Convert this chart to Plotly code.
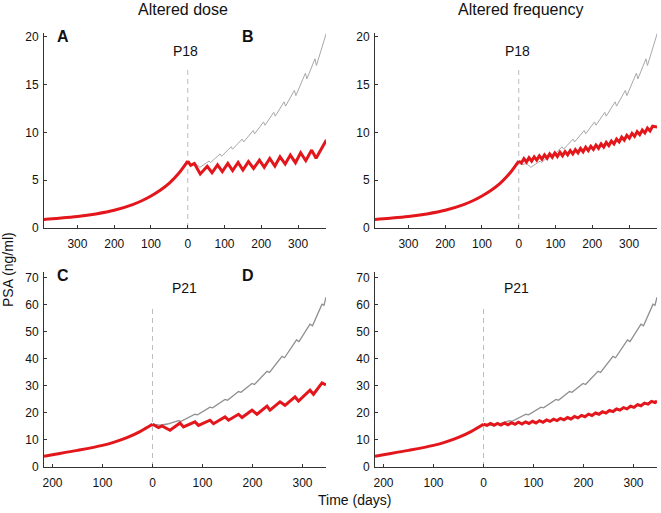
import plotly.graph_objects as go

# ---------------- data ----------------
# P18 (top row)
pre_top_days = [-391, -350, -300, -250, -200, -150, -125, -100, -75, -50, -25, 0]
pre_top_psa = [0.9, 1.02, 1.2, 1.47, 1.85, 2.45, 2.85, 3.35, 3.95, 4.7, 5.7, 7.0]

gray_top_days = [0, 10, 20, 33, 58, 62, 88, 92, 118, 122, 148, 152, 178, 182, 206, 210,
                 234, 238, 262, 266, 290, 294, 320, 324, 346, 350, 377]
gray_top_psa = [7.0, 6.6, 6.75, 6.35, 7.0, 6.85, 7.75, 7.5, 8.5, 8.25, 9.3, 9.0, 10.2, 9.85,
                11.1, 10.75, 12.1, 11.7, 13.2, 12.75, 14.4, 13.85, 16.2, 15.6, 17.7, 17.0, 20.4]

dose_top_days = [0, 8, 18, 34, 53, 66, 81, 94, 109, 122, 137, 150, 165, 179, 195, 208,
                 223, 237, 251, 265, 279, 293, 307, 321, 337, 349, 377]
dose_top_psa = [7.0, 6.55, 6.75, 5.65, 6.45, 5.78, 6.6, 5.9, 6.75, 6.0, 6.85, 6.07, 6.95, 6.23,
                7.1, 6.35, 7.28, 6.48, 7.45, 6.69, 7.63, 6.83, 7.87, 7.04, 8.15, 7.3, 9.2]

freq_top_peak_days = [0, 14, 28, 42, 56, 70, 84, 98, 112, 126, 140, 154, 168, 182, 196, 210,
                      224, 238, 252, 266, 280, 294, 308, 322, 336, 350, 364]
freq_top_peak_psa = [7.0, 7.25, 7.35, 7.45, 7.55, 7.65, 7.75, 7.85, 7.92, 8.0, 8.1, 8.2, 8.32,
                     8.45, 8.55, 8.68, 8.8, 8.95, 9.1, 9.3, 9.5, 9.7, 9.9, 10.08, 10.25, 10.45, 10.65]
freq_top_trough_days = [7, 21, 35, 49, 63, 77, 91, 105, 119, 133, 147, 161, 175, 189, 203,
                        217, 231, 245, 259, 273, 287, 301, 315, 329, 343, 357]
freq_top_trough_psa = [6.8, 6.9, 7.0, 7.1, 7.2, 7.3, 7.4, 7.48, 7.56, 7.65, 7.75, 7.86, 7.98,
                       8.1, 8.22, 8.34, 8.47, 8.62, 8.8, 9.0, 9.2, 9.4, 9.58, 9.76, 9.95, 10.15]
freq_top_end = [377, 10.55]

# P21 (bottom row)
pre_bot_days = [-217, -200, -150, -100, -75, -50, -25, 0]
pre_bot_psa = [4.0, 4.55, 6.15, 8.0, 9.3, 10.95, 13.1, 15.8]

gray_bot_days = [0, 15, 30, 52, 57, 85, 90, 115, 120, 145, 150, 172, 177, 199, 204,
                 229, 234, 259, 264, 288, 293, 315, 320, 339, 343, 347]
gray_bot_psa = [15.8, 15.5, 15.9, 17.1, 16.9, 19.5, 19.3, 22.1, 21.9, 25.0, 24.7, 27.9, 27.6,
                30.9, 30.5, 35.4, 35.0, 40.9, 40.4, 47.0, 46.4, 52.8, 52.2, 60.2, 59.8, 62.8]

dose_bot_days = [0, 12, 19, 35, 55, 62, 85, 92, 115, 122, 145, 152, 172, 179, 199, 209,
                 229, 235, 255, 265, 285, 292, 315, 322, 339, 347]
dose_bot_psa = [15.8, 14.6, 15.2, 13.6, 16.3, 14.8, 16.7, 15.4, 17.3, 16.0, 18.5, 17.3, 19.5,
                18.3, 21.0, 19.5, 22.5, 21.0, 24.1, 22.8, 25.9, 24.4, 28.4, 26.9, 31.1, 30.3]

freq_bot_peak_days = [0, 14, 28, 42, 56, 70, 84, 98, 112, 126, 140, 154, 168, 182, 196, 210,
                      224, 238, 252, 266, 280, 294, 308, 322, 336]
freq_bot_peak_psa = [15.8, 16.1, 16.15, 16.25, 16.4, 16.55, 16.7, 16.9, 17.15, 17.4, 17.7, 18.0,
                     18.3, 18.65, 19.1, 19.55, 19.95, 20.45, 20.95, 21.45, 21.95, 22.45, 23.05,
                     23.65, 24.25]
freq_bot_trough_days = [7, 21, 35, 49, 63, 77, 91, 105, 119, 133, 147, 161, 175, 189, 203,
                        217, 231, 245, 259, 273, 287, 301, 315, 329, 343]
freq_bot_trough_psa = [15.4, 15.45, 15.5, 15.6, 15.75, 15.9, 16.1, 16.3, 16.55, 16.85, 17.15,
                       17.45, 17.75, 18.15, 18.6, 19.05, 19.5, 19.95, 20.5, 21.0, 21.5, 22.05,
                       22.65, 23.25, 23.85]
freq_bot_end = [347, 24.4]

dash_tops = [16.7, 59.0]  # upper end of the dashed line at day 0 (top row, bottom row)

x_top_ticks = [-300, -200, -100, 0, 100, 200, 300]
x_top_text = ["300", "200", "100", "0", "100", "200", "300"]
x_bot_ticks = [-200, -100, 0, 100, 200, 300]
x_bot_text = ["200", "100", "0", "100", "200", "300"]
y_top_ticks = [0, 5, 10, 15, 20]
y_bot_ticks = [0, 10, 20, 30, 40, 50, 60, 70]

titles = ["Altered dose", "Altered frequency"]
panel_letters = ["A", "B", "C", "D"]
patients = ["P18", "P21"]

# ---------------- styling ----------------
RED = "#e3161c"
GRAY_TOP = "#a8a8a8"
GRAY_BOT = "#8f8f8f"
DASH = "#bdbdbd"
AX = "#333333"
FONT = "Liberation Sans, Arial, Helvetica, sans-serif"


def interleave(pd, pv, td, tv, end):
    xs, ys = [], []
    for i in range(len(pd)):
        xs.append(pd[i]); ys.append(pv[i])
        if i < len(td):
            xs.append(td[i]); ys.append(tv[i])
    xs.append(end[0]); ys.append(end[1])
    return xs, ys


fig = go.Figure()

panels = [
    ("x", "y", (pre_top_days, pre_top_psa), (gray_top_days, gray_top_psa),
     (dose_top_days, dose_top_psa), GRAY_TOP, 1.0, dash_tops[0]),
    ("x2", "y2", (pre_top_days, pre_top_psa), (gray_top_days, gray_top_psa),
     interleave(freq_top_peak_days, freq_top_peak_psa, freq_top_trough_days,
                freq_top_trough_psa, freq_top_end), GRAY_TOP, 1.0, dash_tops[0]),
    ("x3", "y3", (pre_bot_days, pre_bot_psa), (gray_bot_days, gray_bot_psa),
     (dose_bot_days, dose_bot_psa), GRAY_BOT, 1.3, dash_tops[1]),
    ("x4", "y4", (pre_bot_days, pre_bot_psa), (gray_bot_days, gray_bot_psa),
     interleave(freq_bot_peak_days, freq_bot_peak_psa, freq_bot_trough_days,
                freq_bot_trough_psa, freq_bot_end), GRAY_BOT, 1.3, dash_tops[1]),
]

for xa, ya, pre, gray, post, gcol, gw, dtop in panels:
    fig.add_trace(go.Scatter(x=[0, 0], y=[0, dtop], xaxis=xa, yaxis=ya, mode="lines",
                             line=dict(color=DASH, width=1, dash="5px,4px"),
                             showlegend=False, hoverinfo="skip"))
    fig.add_trace(go.Scatter(x=gray[0], y=gray[1], xaxis=xa, yaxis=ya, mode="lines",
                             line=dict(color=gcol, width=gw),
                             showlegend=False))
    fig.add_trace(go.Scatter(x=pre[0], y=pre[1], xaxis=xa, yaxis=ya, mode="lines",
                             line=dict(color=RED, width=3, shape="spline"),
                             showlegend=False))
    fig.add_trace(go.Scatter(x=post[0], y=post[1], xaxis=xa, yaxis=ya, mode="lines",
                             line=dict(color=RED, width=3),
                             showlegend=False))

L, R, T, B = 44, 4, 33, 46
W, H = 661, 513
pw, ph = W - L - R, H - T - B


def px(xp):
    return (xp - L) / pw


def py(yp):
    return (H - B - yp) / ph


xl = [0, px(326)]
xr = [px(375), 1.0]
yt = [py(228), 1.0]
yb = [0, py(272)]

common_x = dict(showline=True, linecolor=AX, linewidth=1, showgrid=False, zeroline=False,
                ticks="inside", ticklen=3, tickcolor=AX, tickfont=dict(size=12, color="#111"),
                ticklabelstandoff=5, automargin=False)
common_y = dict(showline=True, linecolor=AX, linewidth=1, showgrid=False, zeroline=False,
                ticks="inside", ticklen=3, tickcolor=AX, tickfont=dict(size=12, color="#111"),
                ticklabelstandoff=2, automargin=False)

fig.update_layout(
    width=W, height=H, margin=dict(l=L, r=R, t=T, b=B, autoexpand=False),
    paper_bgcolor="white", plot_bgcolor="white",
    font=dict(family=FONT, color="#111"),
    xaxis=dict(domain=xl, anchor="y", range=[-391, 376], tickvals=x_top_ticks,
               ticktext=x_top_text, **common_x),
    xaxis2=dict(domain=xr, anchor="y2", range=[-391, 376], tickvals=x_top_ticks,
                ticktext=x_top_text, **common_x),
    xaxis3=dict(domain=xl, anchor="y3", range=[-217, 347], tickvals=x_bot_ticks,
                ticktext=x_bot_text, **common_x),
    xaxis4=dict(domain=xr, anchor="y4", range=[-217, 347], tickvals=x_bot_ticks,
                ticktext=x_bot_text, **common_x),
    yaxis=dict(domain=yt, anchor="x", range=[0, 20.4], tickvals=y_top_ticks, **common_y),
    yaxis2=dict(domain=yt, anchor="x2", range=[0, 20.4], tickvals=y_top_ticks, **common_y),
    yaxis3=dict(domain=yb, anchor="x3", range=[0, 72.1], tickvals=y_bot_ticks, **common_y),
    yaxis4=dict(domain=yb, anchor="x4", range=[0, 72.1], tickvals=y_bot_ticks, **common_y),
)

ann = []


def add(text, xp, yp, size, bold=False, angle=0):
    ann.append(dict(text=("<b>%s</b>" % text) if bold else text, x=px(xp), y=py(yp),
                    xref="paper", yref="paper", xanchor="center", yanchor="middle",
                    showarrow=False, textangle=angle,
                    font=dict(size=size, family=FONT, color="#111")))


add(titles[0], 182.5, 10, 16)
add(titles[1], 520, 10, 16)
add(panel_letters[0], 63, 36, 16, bold=True)
add(panel_letters[1], 247.5, 36, 16, bold=True)
add(panel_letters[2], 62.5, 275.5, 16, bold=True)
add(panel_letters[3], 247.5, 275.5, 16, bold=True)
add(patients[0], 185, 51, 14)
add(patients[0], 517, 51, 14)
add(patients[1], 184.5, 288, 14)
add(patients[1], 516.5, 288, 14)
add("PSA (ng/ml)", 8, 270, 14, angle=-90)
add("Time (days)", 354, 500, 14)
fig.update_layout(annotations=ann)

fig.write_html("out.html",
               config={"displayModeBar": False},
               post_script="document.body.style.margin='0';document.body.style.padding='0';"
                           "document.documentElement.style.overflow='hidden';")
